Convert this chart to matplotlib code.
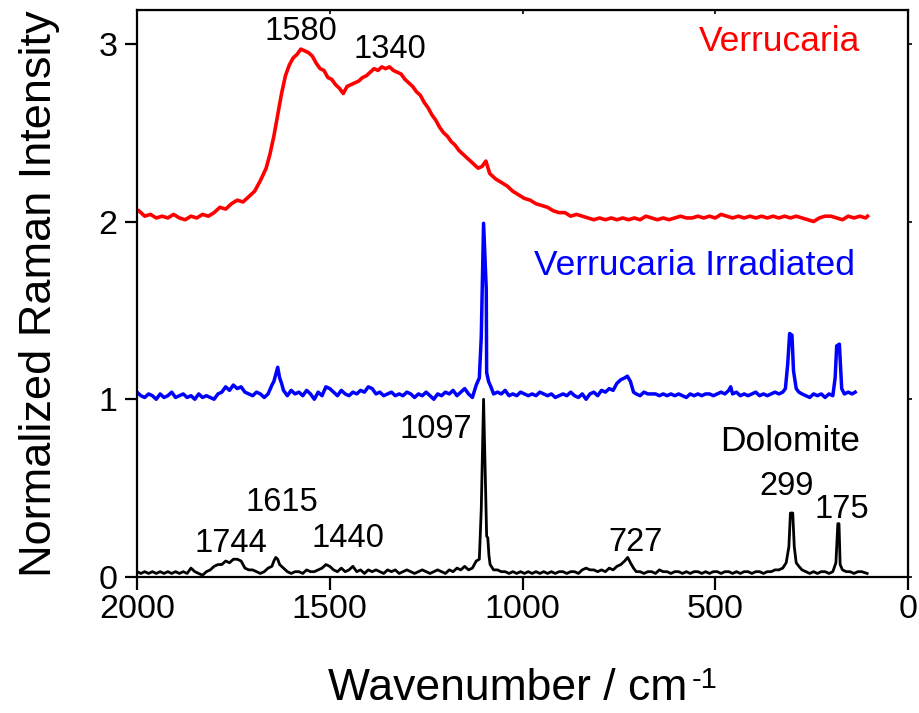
import matplotlib
matplotlib.use("Agg")
from matplotlib import pyplot as plt

plt.rcParams['font.family'] = ['Liberation Sans', 'DejaVu Sans']

# --- Verrucaria (red, offset 2) ---
wn_red = [1995, 1980, 1965, 1950, 1935, 1920, 1905, 1890, 1875, 1860,
          1845, 1830, 1815, 1800, 1785, 1770, 1755, 1740, 1725, 1710,
          1695, 1680, 1665, 1655, 1645, 1635, 1625, 1615, 1605, 1595,
          1585, 1575, 1565, 1555, 1545, 1535, 1525, 1515, 1505, 1495,
          1485, 1475, 1465, 1455, 1445, 1435, 1425, 1415, 1405, 1395,
          1385, 1375, 1365, 1355, 1345, 1335, 1325, 1315, 1305, 1295,
          1285, 1275, 1265, 1255, 1245, 1235, 1225, 1215, 1205, 1195,
          1185, 1175, 1165, 1155, 1145, 1135, 1125, 1115, 1105, 1095,
          1085, 1070, 1055, 1040, 1025, 1010, 995, 980, 965, 950,
          935, 920, 905, 890, 875, 860, 845, 830, 815, 800,
          785, 770, 755, 740, 725, 710, 695, 680, 665, 650,
          635, 620, 605, 590, 575, 560, 545, 530, 515, 500,
          485, 470, 455, 440, 425, 410, 395, 380, 365, 350,
          335, 320, 305, 290, 275, 260, 245, 230, 215, 200,
          185, 170, 155, 140, 125, 110, 105]
int_red = [2.06, 2.03, 2.04, 2.02, 2.03, 2.02, 2.04, 2.02, 2.01, 2.03,
           2.02, 2.04, 2.03, 2.05, 2.08, 2.07, 2.10, 2.12, 2.11, 2.14,
           2.17, 2.23, 2.30, 2.38, 2.48, 2.60, 2.72, 2.82, 2.88, 2.92,
           2.94, 2.97, 2.96, 2.95, 2.93, 2.89, 2.86, 2.85, 2.81, 2.80,
           2.77, 2.75, 2.72, 2.76, 2.77, 2.78, 2.79, 2.81, 2.82, 2.84,
           2.86, 2.85, 2.87, 2.86, 2.87, 2.85, 2.84, 2.83, 2.80, 2.78,
           2.76, 2.73, 2.71, 2.67, 2.64, 2.60, 2.57, 2.53, 2.50, 2.48,
           2.45, 2.43, 2.40, 2.38, 2.36, 2.34, 2.32, 2.30, 2.31, 2.34,
           2.27, 2.24, 2.22, 2.20, 2.17, 2.15, 2.13, 2.12, 2.10, 2.09,
           2.08, 2.06, 2.05, 2.05, 2.03, 2.04, 2.03, 2.02, 2.01, 2.02,
           2.01, 2.02, 2.01, 2.02, 2.01, 2.02, 2.01, 2.03, 2.02, 2.01,
           2.02, 2.01, 2.02, 2.03, 2.02, 2.02, 2.03, 2.02, 2.03, 2.02,
           2.04, 2.03, 2.02, 2.03, 2.02, 2.03, 2.02, 2.03, 2.02, 2.03,
           2.02, 2.03, 2.02, 2.03, 2.02, 2.01, 2.00, 2.02, 2.03, 2.03,
           2.02, 2.01, 2.03, 2.02, 2.03, 2.02, 2.03]

# --- Verrucaria irradiated (blue, offset 1) ---
wn_blue = [2000, 1990, 1980, 1970, 1960, 1950, 1940, 1930, 1920, 1910,
           1900, 1890, 1880, 1870, 1860, 1850, 1840, 1830, 1820, 1810,
           1800, 1790, 1780, 1770, 1760, 1750, 1740, 1730, 1720, 1710,
           1700, 1690, 1680, 1670, 1660, 1650, 1645, 1640, 1635, 1630,
           1625, 1620, 1610, 1600, 1590, 1580, 1570, 1560, 1550, 1540,
           1530, 1520, 1510, 1500, 1490, 1480, 1470, 1460, 1450, 1440,
           1430, 1420, 1410, 1400, 1390, 1380, 1370, 1360, 1350, 1340,
           1330, 1320, 1310, 1300, 1290, 1280, 1270, 1260, 1250, 1240,
           1230, 1220, 1210, 1200, 1190, 1180, 1170, 1160, 1150, 1140,
           1130, 1120, 1112, 1107, 1101, 1094, 1093, 1088, 1082, 1075,
           1065, 1055, 1045, 1035, 1025, 1015, 1005, 995, 985, 975,
           965, 955, 945, 935, 925, 915, 905, 895, 885, 875,
           865, 855, 845, 835, 825, 815, 805, 795, 785, 775,
           765, 755, 745, 735, 728, 720, 712, 705, 695, 685,
           675, 665, 655, 645, 635, 625, 615, 605, 595, 585,
           575, 565, 555, 545, 535, 525, 515, 505, 495, 485,
           475, 465, 460, 455, 445, 435, 425, 415, 405, 395,
           385, 375, 365, 355, 345, 335, 325, 318, 312, 307,
           301, 297, 290, 283, 275, 265, 255, 245, 235, 225,
           215, 205, 195, 189, 185, 178, 172, 165, 155, 145,
           137]
int_blue = [1.04, 1.02, 1.01, 1.03, 1.02, 1.00, 1.03, 1.01, 1.02, 1.04,
            1.01, 1.02, 1.03, 1.01, 1.02, 1.00, 1.03, 1.01, 1.02, 1.01,
            1.00, 1.03, 1.04, 1.07, 1.05, 1.08, 1.06, 1.07, 1.04, 1.03,
            1.02, 1.04, 1.03, 1.01, 1.03, 1.08, 1.10, 1.14, 1.18, 1.12,
            1.09, 1.05, 1.02, 1.05, 1.03, 1.04, 1.02, 1.05, 1.03, 1.00,
            1.04, 1.02, 1.07, 1.06, 1.04, 1.02, 1.05, 1.03, 1.02, 1.04,
            1.03, 1.05, 1.04, 1.07, 1.06, 1.03, 1.04, 1.02, 1.03, 1.04,
            1.02, 1.03, 1.02, 1.04, 1.03, 1.01, 1.03, 1.02, 1.04, 1.02,
            1.00, 1.03, 1.02, 1.04, 1.03, 1.05, 1.02, 1.04, 1.06, 1.03,
            1.01, 1.08, 1.12, 1.35, 1.99, 1.62, 1.15, 1.10, 1.07, 1.03,
            1.04, 1.03, 1.05, 1.02, 1.03, 1.02, 1.04, 1.03, 1.02, 1.03,
            1.02, 1.04, 1.03, 1.02, 1.03, 1.01, 1.02, 1.03, 1.02, 1.04,
            1.02, 1.01, 1.03, 1.00, 1.03, 1.04, 1.02, 1.05, 1.04, 1.06,
            1.05, 1.09, 1.11, 1.12, 1.13, 1.10, 1.04, 1.03, 1.02, 1.04,
            1.03, 1.03, 1.03, 1.02, 1.03, 1.02, 1.03, 1.02, 1.03, 1.02,
            1.01, 1.03, 1.02, 1.03, 1.02, 1.03, 1.03, 1.02, 1.03, 1.04,
            1.03, 1.05, 1.07, 1.03, 1.04, 1.02, 1.03, 1.02, 1.03, 1.04,
            1.02, 1.03, 1.02, 1.03, 1.04, 1.03, 1.04, 1.06, 1.20, 1.37,
            1.36, 1.16, 1.06, 1.04, 1.03, 1.02, 1.01, 1.03, 1.02, 1.03,
            1.01, 1.03, 1.02, 1.12, 1.30, 1.31, 1.06, 1.03, 1.04, 1.03,
            1.04]

# --- Dolomite (black) ---
wn_black = [2000, 1990, 1980, 1970, 1960, 1950, 1940, 1930, 1920, 1910,
            1900, 1890, 1880, 1870, 1860, 1850, 1840, 1830, 1820, 1810,
            1800, 1790, 1780, 1770, 1760, 1750, 1740, 1730, 1720, 1710,
            1700, 1690, 1680, 1670, 1660, 1650, 1645, 1640, 1635, 1630,
            1620, 1610, 1600, 1590, 1580, 1570, 1560, 1550, 1540, 1530,
            1520, 1510, 1500, 1490, 1480, 1470, 1460, 1450, 1440, 1430,
            1420, 1410, 1400, 1390, 1380, 1370, 1360, 1350, 1340, 1330,
            1320, 1310, 1300, 1290, 1280, 1270, 1260, 1250, 1240, 1230,
            1220, 1210, 1200, 1190, 1180, 1170, 1160, 1150, 1140, 1130,
            1120, 1112, 1107, 1101, 1093, 1090, 1087, 1084, 1075, 1065,
            1055, 1045, 1035, 1025, 1015, 1005, 995, 985, 975, 965,
            955, 945, 935, 925, 915, 905, 895, 885, 875, 865,
            855, 845, 835, 825, 815, 805, 795, 785, 775, 765,
            755, 745, 735, 727, 720, 712, 705, 695, 685, 675,
            665, 655, 645, 635, 625, 615, 605, 595, 585, 575,
            565, 555, 545, 535, 525, 515, 505, 495, 485, 475,
            465, 455, 445, 435, 425, 415, 405, 395, 385, 375,
            365, 355, 345, 335, 325, 316, 309, 305, 299, 295,
            290, 283, 275, 265, 255, 245, 235, 225, 215, 205,
            195, 187, 182, 179, 176, 170, 160, 150, 140, 130,
            120, 106]
int_black = [0.03, 0.02, 0.03, 0.02, 0.03, 0.02, 0.03, 0.02, 0.03, 0.02,
             0.03, 0.02, 0.03, 0.02, 0.05, 0.03, 0.02, 0.01, 0.03, 0.04,
             0.06, 0.07, 0.07, 0.09, 0.08, 0.10, 0.10, 0.09, 0.05, 0.04,
             0.04, 0.03, 0.02, 0.03, 0.05, 0.06, 0.09, 0.11, 0.10, 0.07,
             0.05, 0.03, 0.02, 0.03, 0.03, 0.02, 0.04, 0.03, 0.03, 0.04,
             0.05, 0.07, 0.06, 0.04, 0.03, 0.05, 0.03, 0.04, 0.06, 0.03,
             0.04, 0.02, 0.04, 0.03, 0.04, 0.03, 0.02, 0.04, 0.03, 0.04,
             0.02, 0.03, 0.04, 0.03, 0.02, 0.03, 0.04, 0.03, 0.02, 0.03,
             0.04, 0.03, 0.02, 0.04, 0.03, 0.05, 0.04, 0.06, 0.04, 0.05,
             0.09, 0.10, 0.38, 1.00, 0.23, 0.22, 0.12, 0.07, 0.04, 0.04,
             0.03, 0.03, 0.02, 0.03, 0.02, 0.03, 0.02, 0.03, 0.02, 0.03,
             0.02, 0.03, 0.02, 0.03, 0.02, 0.03, 0.03, 0.02, 0.03, 0.03,
             0.02, 0.04, 0.05, 0.04, 0.04, 0.03, 0.04, 0.03, 0.05, 0.04,
             0.06, 0.07, 0.09, 0.11, 0.08, 0.05, 0.03, 0.03, 0.02, 0.03,
             0.03, 0.02, 0.04, 0.03, 0.03, 0.02, 0.03, 0.03, 0.02, 0.03,
             0.02, 0.03, 0.03, 0.02, 0.03, 0.02, 0.03, 0.03, 0.02, 0.03,
             0.03, 0.02, 0.03, 0.02, 0.03, 0.03, 0.02, 0.03, 0.03, 0.02,
             0.03, 0.03, 0.04, 0.04, 0.05, 0.08, 0.17, 0.36, 0.36, 0.17,
             0.08, 0.06, 0.04, 0.03, 0.02, 0.03, 0.02, 0.03, 0.03, 0.02,
             0.03, 0.08, 0.30, 0.30, 0.07, 0.04, 0.03, 0.03, 0.02, 0.03,
             0.03, 0.02]

# peak labels: (text, x, y, colour, size)
labels = [("1580", 1575, 3.02, "black", 23.5), ("1340", 1344, 2.92, "black", 23.5),
          ("Verrucaria", 332, 2.96, "red", 25.5),
          ("Verrucaria Irradiated", 553, 1.70, "blue", 25.5),
          ("1097", 1224, 0.78, "black", 23.5), ("1615", 1624, 0.374, "black", 23.5),
          ("1744", 1756, 0.138, "black", 23.5), ("1440", 1453, 0.166, "black", 23.5),
          ("727", 706, 0.149, "black", 23.5), ("299", 314, 0.464, "black", 23.5),
          ("175", 171, 0.33, "black", 23.5), ("Dolomite", 306, 0.71, "black", 25.5)]

fig = plt.figure(figsize=(9.2, 7.13), dpi=100)
ax = fig.add_axes([137/920, 1 - 577/713, 771/920, 567/713])

ax.plot(wn_red, int_red, color='#ff0000', lw=2.6)
ax.plot(wn_blue, int_blue, color='#0000ff', lw=2.5)
ax.plot(wn_black, int_black, color='black', lw=2.0)

for t, x, y, c, fs in labels:
    ax.text(x, y, t, color=c, fontsize=fs, ha='center', va='baseline')

ax.set_xlim(2000, 0)
ax.set_ylim(0, 3.19)
ax.set_xticks([2000, 1500, 1000, 500, 0])
ax.set_yticks([0, 1, 2, 3])
for s in ax.spines.values():
    s.set_linewidth(1.6)
ax.tick_params(axis='both', which='major', direction='out', length=9, width=1.6,
               labelsize=24.5)
ax.tick_params(axis='x', pad=3)
ax.tick_params(axis='y', pad=5)

# small ticks on top and right
top = ax.secondary_xaxis('top')
top.set_xticks([2000, 1500, 1000, 500, 0])
top.tick_params(direction='in', length=3, width=1.2, labeltop=False)
right = ax.secondary_yaxis('right')
right.set_yticks([0, 1, 2, 3])
right.tick_params(direction='out', length=3, width=1.2, labelright=False)

ax.set_ylabel('Normalized Raman Intensity', fontsize=32.5)
ax.yaxis.set_label_coords(-0.1, 0.5)
fig.text(328/920, 1 - 700/713, 'Wavenumber / cm', fontsize=32,
         ha='left', va='baseline')
fig.text(692/920, 1 - 688/713, '-1', fontsize=21, ha='left', va='baseline')

fig.savefig('out.png', dpi=100)
